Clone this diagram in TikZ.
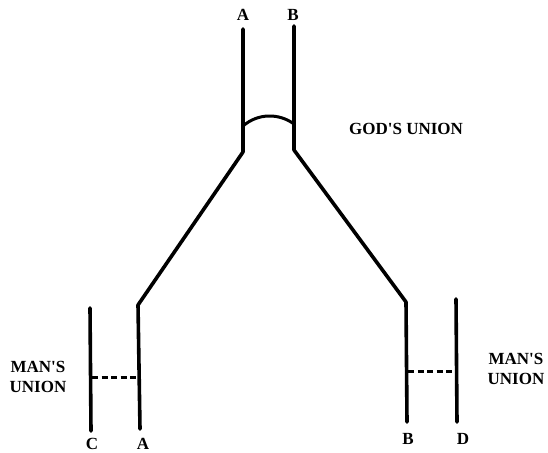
\documentclass[tikz,border=0pt]{standalone}
\usepackage{fontspec}
\setmainfont{Liberation Serif}[Ligatures=TeXOff]
\begin{document}
\begin{tikzpicture}[x=1pt,y=-1pt,
  strand/.style={line width=3.6pt,line join=round,line cap=round},
  bond/.style={line width=3pt,dash pattern=on 6pt off 3.5pt},
  lbl/.style={font=\fontsize{17}{20}\selectfont\bfseries,inner sep=0pt,align=center}]
\useasboundingbox (0,0) rectangle (548,452);
% end points of the strands
\coordinate (atop) at (243,29);
\coordinate (ajoin) at (243,152);
\coordinate (akink) at (138,305);
\coordinate (abot) at (140,429);
\coordinate (btop) at (294,26);
\coordinate (bjoin) at (294,150);
\coordinate (bkink) at (406,302);
\coordinate (bbot) at (407,422);
\coordinate (ctop) at (90,308);
\coordinate (cbot) at (91,431);
\coordinate (dtop) at (456,299);
\coordinate (dbot) at (457,422);
% strands
\draw[strand] (atop) -- (ajoin) -- (akink) -- (abot);
\draw[strand] (btop) -- (bjoin) -- (bkink) -- (bbot);
\draw[strand] (ctop) -- (cbot);
\draw[strand] (dtop) -- (dbot);
% god's union: arched bond
\coordinate (arcl) at (243,126);
\coordinate (arcr) at (294,124);
\draw[line width=3pt] (arcl) .. controls (258,113) and (279,113) .. (arcr);
% man's unions: dashed bonds
\coordinate (cl) at (92,377);
\coordinate (cr) at (139,377);
\coordinate (dl) at (408,371);
\coordinate (dr) at (456,371);
\draw[bond] (cl) -- (cr);
\draw[bond] (dl) -- (dr);
% labels
\node[lbl] (la) at (243,15) {A};
\node[lbl] (lb) at (293,15) {B};
\node[lbl] (god) at (406,129) {GOD'S UNION};
\node[lbl] (manl) at (38,377) {MAN'S\\UNION};
\node[lbl] (manr) at (516,369) {MAN'S\\UNION};
\node[lbl] (lc) at (92,444) {C};
\node[lbl] (la2) at (143,444) {A};
\node[lbl] (lb2) at (408,439) {B};
\node[lbl] (ld) at (463,439) {D};
\end{tikzpicture}
\end{document}
